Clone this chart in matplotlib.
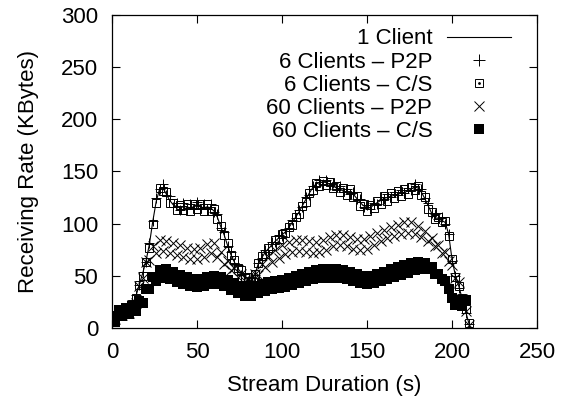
"""
plot.py - receiving rate vs stream duration (gnuplot style)
"""
import matplotlib
matplotlib.use("Agg")
import matplotlib.pyplot as plt
import numpy as np
from matplotlib.lines import Line2D

plt.rcParams["font.family"] = ["Liberation Sans", "DejaVu Sans"]

# samples every 2 s (marker series jitter a bit from sample to sample)
one_client = [8, 12, 14, 15, 16, 18, 22, 30, 41, 52, 64, 80, 102, 121, 133, 134,
              128, 122, 118, 116, 115, 116, 116, 115, 116, 117, 116, 115, 116, 115,
              112, 106, 97, 89, 79, 70, 63, 57, 53, 50, 47, 45, 51, 61, 67, 72,
              76, 79, 83, 86, 89, 92, 96, 101, 106, 111, 117, 123, 129, 134, 138,
              139, 140, 139, 138, 136, 134, 133, 131, 130, 130, 128, 124, 120, 117,
              115, 115, 118, 120, 122, 124, 125, 126, 127, 128, 129, 130, 131, 133,
              135, 134, 130, 124, 117, 110, 106, 104, 103, 101, 90, 66, 50, 40, 28,
              16, 4]
p2p_6 = [7, 14, 12, 18, 15, 20, 22, 32, 41, 54, 63, 81, 102, 124, 133, 138,
         127, 126, 116, 120, 113, 120, 114, 119, 114, 121, 114, 119, 114, 119,
         111, 109, 96, 92, 78, 73, 62, 60, 51, 52, 45, 48, 51, 62, 67, 75,
         75, 82, 82, 89, 88, 95, 96, 103, 105, 113, 116, 125, 127, 136, 136,
         142, 138, 142, 137, 139, 133, 136, 130, 133, 128, 130, 123, 123, 116,
         118, 114, 120, 119, 125, 123, 128, 125, 130, 127, 132, 129, 134, 132,
         138, 133, 133, 124, 120, 110, 109, 104, 106, 100, 90, 64, 50, 38, 28,
         14, 4]
cs_6 = [10, 10, 16, 13, 18, 16, 23, 29, 41, 50, 63, 77, 100, 120, 134, 131,
        130, 120, 120, 113, 118, 113, 119, 112, 119, 114, 119, 112, 119, 112,
        114, 104, 98, 89, 81, 70, 65, 57, 55, 49, 49, 45, 52, 62, 69, 71,
        77, 78, 84, 85, 90, 91, 97, 99, 106, 109, 117, 121, 129, 132, 139,
        136, 141, 137, 140, 134, 136, 130, 134, 127, 133, 125, 126, 117, 119,
        112, 118, 115, 122, 119, 126, 122, 129, 124, 131, 126, 133, 128, 135,
        132, 136, 127, 125, 114, 111, 104, 106, 101, 102, 88, 66, 49, 40, 29,
        18, 5]
p2p_60 = [12, 9, 17, 12, 19, 14, 22, 24, 40, 48, 63, 65, 78, 72, 84, 74,
          83, 72, 81, 70, 79, 68, 77, 66, 76, 66, 77, 68, 80, 72,
          81, 68, 73, 61, 64, 55, 57, 49, 52, 45, 47, 43, 52, 51, 61, 58,
          69, 63, 75, 67, 79, 71, 82, 73, 84, 74, 84, 73, 83, 72, 82,
          73, 84, 75, 87, 78, 89, 79, 89, 78, 87, 76, 85, 75, 85,
          76, 88, 79, 91, 83, 94, 86, 97, 88, 99, 90, 101, 91, 101,
          90, 98, 87, 93, 83, 86, 78, 79, 72, 73, 64, 60, 48, 44, 28,
          16, 3]
cs_60 = [11, 6, 17, 11, 19, 13, 21, 16, 26, 24, 37, 37, 49, 45, 55, 48,
         56, 47, 54, 44, 51, 42, 49, 40, 47, 39, 47, 40, 49, 42,
         50, 42, 49, 40, 46, 36, 43, 33, 40, 31, 39, 31, 40, 33, 42, 35,
         44, 37, 45, 38, 46, 39, 48, 41, 50, 43, 52, 45, 54, 47, 55,
         48, 56, 48, 56, 48, 56, 48, 55, 47, 54, 45, 52, 43, 50,
         42, 50, 43, 52, 45, 54, 47, 56, 49, 58, 51, 60, 53, 62,
         55, 63, 56, 62, 56, 58, 52, 52, 47, 45, 37, 29, 22, 27, 21,
         27]

LABELS = ["1 Client", "6 Clients \u2013 P2P", "6 Clients \u2013 C/S",
          "60 Clients \u2013 P2P", "60 Clients \u2013 C/S"]


def secs(vals):
    return np.arange(len(vals)) * 2


fig = plt.figure(figsize=(5.61, 3.97), dpi=100)
ax = fig.add_axes([0.1996, 0.174, 0.7576, 0.789])

ax.plot(secs(one_client), one_client, color="black", lw=0.8)
ax.plot(secs(p2p_6), p2p_6, ls="none", marker="+", ms=6.5, mew=0.7, color="black")
ax.plot(secs(cs_6), cs_6, ls="none", marker="s", ms=5.5, mew=0.7,
        mfc="none", mec="black")
ax.plot(secs(p2p_60), p2p_60, ls="none", marker="x", ms=6.5, mew=0.7, color="black")
ax.plot(secs(cs_60), cs_60, ls="none", marker="s", ms=7, mew=0, color="black")

ax.set_xlim(0, 250)
ax.set_ylim(0, 300)
ax.set_xticks(range(0, 251, 50))
ax.set_yticks(range(0, 301, 50))
ax.tick_params(direction="in", length=6, width=0.8, top=True, right=True,
               labelsize=16)
ax.tick_params(axis="x", pad=10)
ax.tick_params(axis="y", pad=10)
for s in ax.spines.values():
    s.set_linewidth(0.9)

ax.set_xlabel("Stream Duration (s)", fontsize=16, labelpad=9)
ax.set_ylabel("Receiving Rate (KBytes)", fontsize=16, labelpad=16)

# legend handles
h_line = Line2D([], [], color="black", lw=0.8)
h_plus = Line2D([], [], ls="none", marker="+", ms=8, mew=0.7, color="black")
h_box = Line2D([], [], ls="none", marker="s", ms=6, mew=0.7, mfc="none", mec="black")
h_dot = Line2D([], [], ls="none", marker=".", ms=2, color="black")
h_x = Line2D([], [], ls="none", marker="x", ms=6.5, mew=0.7, color="black")
h_fill = Line2D([], [], ls="none", marker="s", ms=7, mew=0, color="black")
leg = ax.legend([h_line, h_plus, (h_box, h_dot), h_x, h_fill], LABELS,
                loc="upper right", bbox_to_anchor=(0.976, 1.006), frameon=False,
                markerfirst=False, numpoints=1, handlelength=2.9,
                handletextpad=0.65, labelspacing=0.1, fontsize=16,
                borderpad=0.2)
for t in leg.get_texts():
    t.set_ha("right")

fig.savefig("out.png", dpi=100)
